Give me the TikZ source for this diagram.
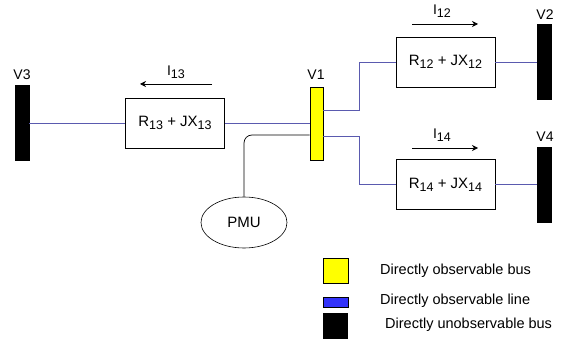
\documentclass[tikz,border=0pt]{standalone}
\usepackage{fontspec}
\setmainfont{Liberation Sans}
\usetikzlibrary{calc,shapes.geometric,arrows.meta}
\definecolor{linec}{RGB}{90,90,175}
\definecolor{busyellow}{RGB}{255,255,0}
\definecolor{legblue}{RGB}{50,50,250}
\newcommand{\sbs}[1]{\raisebox{-3pt}{\fontsize{12.5}{14}\selectfont #1}}
\begin{document}
\begin{tikzpicture}[x=1pt,y=-1pt,
  bus/.style={draw=black,fill=black,minimum width=14pt,minimum height=75pt,inner sep=0pt},
  imp/.style={draw=black,line width=0.6pt,minimum width=99pt,minimum height=50pt,inner sep=0pt,font=\fontsize{15}{17}\selectfont},
  lbl/.style={font=\fontsize{14}{16}\selectfont,inner sep=0pt},
  wire/.style={draw=linec,line width=0.75pt},
  cur/.style={draw=black,line width=0.8pt,-{Stealth[length=6pt,width=6pt]}},
  legtxt/.style={font=\fontsize{14.5}{16}\selectfont,inner sep=0pt,anchor=west}]
\useasboundingbox (0,0) rectangle (562,339);
% buses
\node[bus] (V3) at (22,122.5) {};
\node[bus,fill=busyellow,minimum width=13pt,minimum height=73pt,line width=0.6pt] (V1) at (316.5,123.5) {};
\node[bus] (V2) at (544,61.5) {};
\node[bus] (V4) at (544,185) {};
\node[lbl] (lV3) at (22,75) {V3};
\node[lbl] (lV1) at (316,75) {V1};
\node[lbl] (lV2) at (545,15) {V2};
\node[lbl] (lV4) at (545,137) {V4};
% impedances
\node[imp] (Z13) at (175,123) {R\sbs{13} + JX\sbs{13}};
\node[imp] (Z12) at (445.5,62) {R\sbs{12} + JX\sbs{12}};
\node[imp] (Z14) at (445.5,184.5) {R\sbs{14} + JX\sbs{14}};
% PMU
\node[draw=black,ellipse,line width=0.6pt,minimum width=86pt,minimum height=51pt,inner sep=0pt,font=\fontsize{15}{17}\selectfont] (PMU) at (244,222.5) {PMU};
% coordinates on V1
\coordinate (v1a) at ($(V1.east)+(0,-13.5)$);
\coordinate (v1b) at ($(V1.east)+(0,12.5)$);
\coordinate (v1c) at ($(V1.west)+(0,-0.5)$);
\coordinate (v1d) at ($(V1.west)+(0,11.5)$);
% wires
\draw[wire] (V3.east |- Z13.west) -- (Z13.west);
\draw[wire] (Z13.east) -- (v1c);
\draw[wire] (v1a) -- (359,110) |- (Z12.west);
\draw[wire] (v1b) -- (359,136) |- (Z14.west);
\draw[wire] (Z12.east) -- (V2.west |- Z12.east);
\draw[wire] (Z14.east) -- (V4.west |- Z14.east);
\draw[black,line width=0.7pt,rounded corners=8pt] (v1d) -- (PMU.north |- v1d) -- (PMU.north);
% currents
\coordinate (a13s) at (212,84);
\coordinate (a13e) at (140,84);
\draw[cur] (a13s) -- (a13e);
\node[lbl] (lI13) at (176,72) {I\sbs{13}};
\coordinate (a12s) at (412,24);
\coordinate (a12e) at (478,24);
\draw[cur] (a12s) -- (a12e);
\node[lbl] (lI12) at (442,11) {I\sbs{12}};
\coordinate (a14s) at (412,148);
\coordinate (a14e) at (478,148);
\draw[cur] (a14s) -- (a14e);
\node[lbl] (lI14) at (442,135) {I\sbs{14}};
% legend
\node[draw=black,fill=busyellow,line width=0.6pt,minimum width=25pt,minimum height=25pt,inner sep=0pt] (Ly) at (335.5,270.5) {};
\node[draw=black,fill=legblue,line width=0.5pt,minimum width=25pt,minimum height=10pt,inner sep=0pt] (Lb) at (335.5,302) {};
\node[fill=black,minimum width=25pt,minimum height=27pt,inner sep=0pt] (Lk) at (335.5,326.5) {};
\node[legtxt] (Tly) at (380,271) {Directly observable bus};
\node[legtxt] (Tlb) at (380,301) {Directly observable line};
\node[legtxt] (Tlk) at (385,325) {Directly unobservable bus};
\end{tikzpicture}
\end{document}
